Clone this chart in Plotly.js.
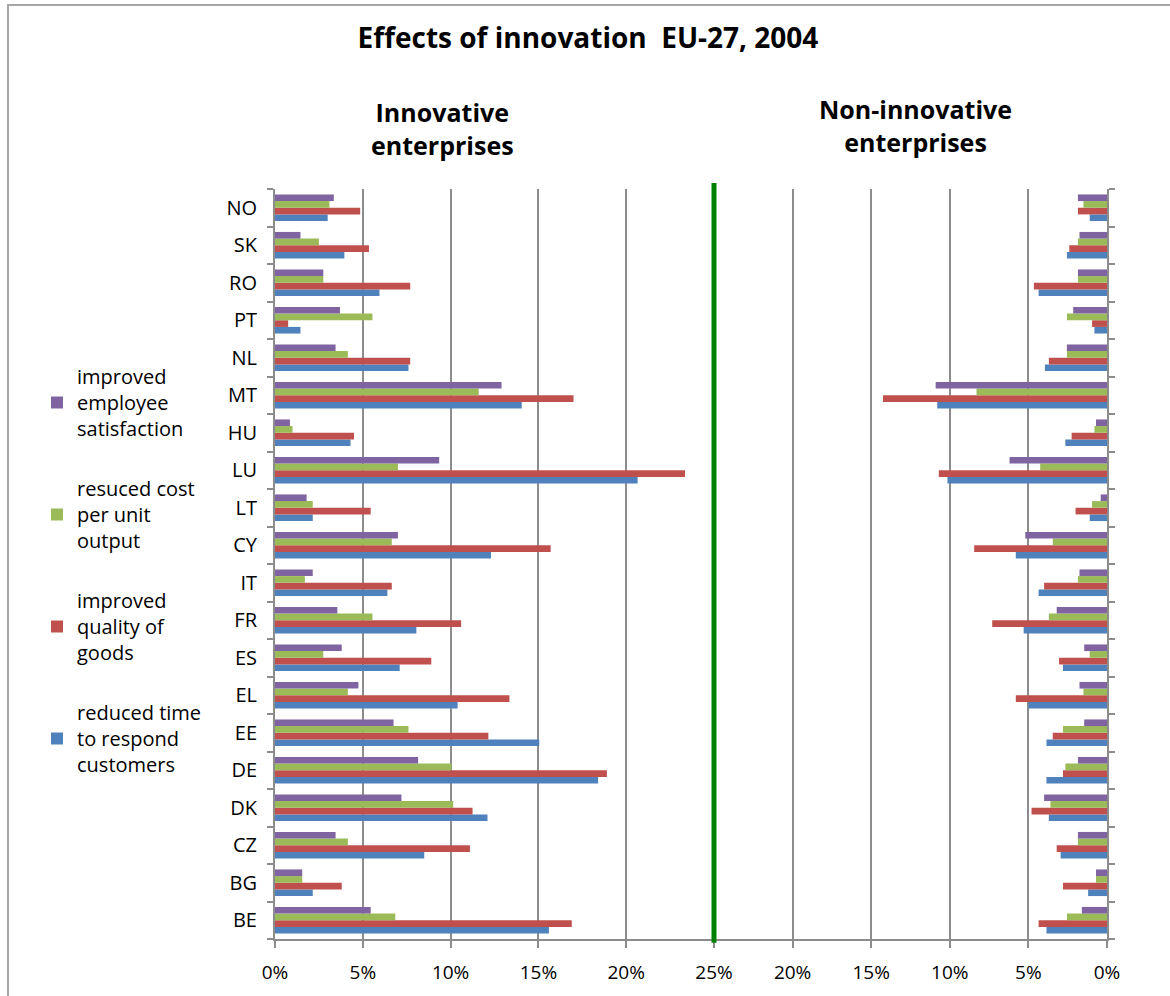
<!DOCTYPE html>
<html>
<head>
<meta charset="utf-8">
<script src="https://cdn.plot.ly/plotly-3.0.1.min.js"></script>
<style>
  html, body { margin: 0; padding: 0; background: #ffffff; }
  #chart { width: 1170px; height: 996px; }
</style>
</head>
<body>
<div id="chart"></div>
<script>
// Countries, listed bottom to top as they appear on the category axis
const countries = ["BE", "BG", "CZ", "DK", "DE", "EE", "EL", "ES", "FR", "IT",
                   "CY", "LT", "LU", "HU", "MT", "NL", "PT", "RO", "SK", "NO"];

const seriesNames = [
  "reduced time<br>to respond<br>customers",
  "improved<br>quality of<br>goods",
  "resuced cost<br>per unit<br>output",
  "improved<br>employee<br>satisfaction"
];
const seriesColors = ["#4F81BD", "#C0504D", "#9BBB59", "#8064A2"];
// legend lists the series top-down in the reverse of the drawing order
const legendRanks = [4, 3, 2, 1];

// Innovative enterprises (% of enterprises)
const innovTime     = [15.6, 2.15, 8.5, 12.1, 18.4, 15.05, 10.4, 7.1, 8.05, 6.4,
                       12.3, 2.15, 20.65, 4.3, 14.05, 7.6, 1.45, 5.95, 3.95, 3.0];
const innovQuality  = [16.9, 3.8, 11.1, 11.25, 18.9, 12.15, 13.35, 8.9, 10.6, 6.65,
                       15.7, 5.45, 23.35, 4.5, 17.0, 7.7, 0.75, 7.7, 5.35, 4.85];
const innovCost     = [6.85, 1.55, 4.15, 10.15, 10.05, 7.6, 4.15, 2.75, 5.55, 1.7,
                       6.65, 2.15, 7.0, 1.0, 11.6, 4.15, 5.55, 2.75, 2.5, 3.1];
const innovEmployee = [5.45, 1.55, 3.45, 7.2, 8.15, 6.75, 4.75, 3.8, 3.55, 2.15,
                       7.0, 1.8, 9.35, 0.85, 12.9, 3.45, 3.7, 2.75, 1.45, 3.35];

// Non-innovative enterprises (% of enterprises)
const nonTime       = [3.85, 1.2, 2.95, 3.7, 3.85, 3.85, 5.0, 2.8, 5.3, 4.35,
                       5.8, 1.1, 10.15, 2.65, 10.8, 3.95, 0.8, 4.35, 2.55, 1.1];
const nonQuality    = [4.35, 2.8, 3.2, 4.8, 2.8, 3.45, 5.8, 3.05, 7.3, 4.0,
                       8.45, 2.0, 10.7, 2.25, 14.25, 3.7, 0.95, 4.65, 2.4, 1.85];
const nonCost       = [2.55, 0.7, 1.85, 3.6, 2.65, 2.8, 1.5, 1.1, 3.7, 1.85,
                       3.45, 0.95, 4.25, 0.8, 8.3, 2.55, 2.55, 1.85, 1.85, 1.5];
const nonEmployee   = [1.6, 0.7, 1.85, 4.0, 1.85, 1.45, 1.75, 1.45, 3.2, 1.75,
                       5.2, 0.4, 6.2, 0.7, 10.9, 2.55, 2.15, 1.85, 1.75, 1.85];

const leftTicks  = [0, 5, 10, 15, 20, 25];
const rightTicks = [0, 5, 10, 15, 20];

const innovSeries = [innovTime, innovQuality, innovCost, innovEmployee];
const nonSeries   = [nonTime, nonQuality, nonCost, nonEmployee];

const traces = [];
innovSeries.forEach((vals, i) => {
  traces.push({
    type: "bar", orientation: "h",
    x: vals, y: countries,
    name: seriesNames[i],
    legendgroup: "g" + i,
    legendrank: legendRanks[i],
    marker: { color: seriesColors[i], line: { width: 0 } },
    xaxis: "x", yaxis: "y",
    hovertemplate: "%{y}: %{x}%<extra></extra>"
  });
});
nonSeries.forEach((vals, i) => {
  traces.push({
    type: "bar", orientation: "h",
    x: vals, y: countries,
    name: seriesNames[i],
    legendgroup: "g" + i,
    legendrank: legendRanks[i],
    showlegend: false,
    marker: { color: seriesColors[i], line: { width: 0 } },
    xaxis: "x2", yaxis: "y2",
    hovertemplate: "%{y}: %{x}%<extra></extra>"
  });
});

const gridGrey = "#8c8c8c";
const font = "'Open Sans', 'Liberation Sans', sans-serif";
const split = 439 / 832;

function heading(text, xPix, yPix) {
  return {
    text: "<b>" + text + "</b>",
    xref: "paper", yref: "paper",
    x: (xPix - 275) / 832, y: 1 + (189 - yPix) / 750,
    xanchor: "center", yanchor: "middle", showarrow: false,
    font: { family: font, size: 25, color: "#000000" }
  };
}

const layout = {
  width: 1170, height: 996,
  paper_bgcolor: "#ffffff", plot_bgcolor: "#ffffff",
  margin: { l: 275, r: 63, t: 189, b: 57 },
  barmode: "group", bargap: 0.29, bargroupgap: 0,
  font: { family: font, color: "#000000" },
  title: {
    text: "<b>Effects of innovation  EU-27, 2004</b>",
    font: { family: font, size: 28, color: "#000000" },
    x: 588 / 1170, xref: "container", xanchor: "center",
    y: 1 - 38 / 996, yref: "container", yanchor: "middle"
  },
  xaxis: {
    domain: [0, split], range: [0, 25], fixedrange: true,
    tickvals: leftTicks, ticktext: leftTicks.map(v => v + "%"),
    showgrid: true, gridcolor: gridGrey, gridwidth: 2,
    zeroline: false, showline: true, linecolor: gridGrey, linewidth: 2,
    ticks: "outside", ticklen: 7, tickwidth: 2, tickcolor: gridGrey,
    ticklabelstandoff: 8,
    tickfont: { size: 19, color: "#000000" }
  },
  xaxis2: {
    domain: [split, 1], range: [25, 0], anchor: "y2", fixedrange: true,
    tickvals: rightTicks, ticktext: rightTicks.map(v => v + "%"),
    showgrid: true, gridcolor: gridGrey, gridwidth: 2,
    zeroline: false, showline: true, linecolor: gridGrey, linewidth: 2,
    ticks: "outside", ticklen: 7, tickwidth: 2, tickcolor: gridGrey,
    ticklabelstandoff: 8,
    tickfont: { size: 19, color: "#000000" }
  },
  yaxis: {
    type: "category", categoryorder: "array", categoryarray: countries,
    anchor: "x", fixedrange: true,
    showline: true, linecolor: gridGrey, linewidth: 2,
    ticks: "outside", tickson: "boundaries", ticklen: 6, tickwidth: 2, tickcolor: gridGrey,
    ticklabelstandoff: 12,
    showgrid: false, zeroline: false,
    tickfont: { size: 20, color: "#000000" }
  },
  yaxis2: {
    type: "category", categoryorder: "array", categoryarray: countries,
    matches: "y", anchor: "x2", side: "right", fixedrange: true,
    showline: true, linecolor: gridGrey, linewidth: 2,
    ticks: "outside", tickson: "boundaries", ticklen: 6, tickwidth: 2, tickcolor: gridGrey,
    showticklabels: false, showgrid: false, zeroline: false
  },
  legend: {
    x: (37 - 275) / 832, xanchor: "left",
    y: 1 + (189 - 357) / 750, yanchor: "top",
    traceorder: "grouped",
    tracegroupgap: 31,
    font: { family: font, size: 20, color: "#000000" },
    bgcolor: "rgba(0,0,0,0)", borderwidth: 0
  },
  annotations: [
    heading("Innovative<br>enterprises", 442, 129),
    heading("Non-innovative<br>enterprises", 915, 125)
  ],
  shapes: [
    // outer chart frame
    {
      type: "rect", xref: "paper", yref: "paper", layer: "below",
      x0: (8 - 275) / 832, x1: 1.2,
      y0: -0.2, y1: 1 + (189 - 5) / 750,
      line: { color: "#a6a6a6", width: 2 }, fillcolor: "rgba(0,0,0,0)"
    },
    // divider between the two halves, at the 25% mark
    {
      type: "line", xref: "paper", yref: "paper",
      x0: split, x1: split, y0: -0.005, y1: 1.008,
      line: { color: "#008000", width: 5 }
    }
  ]
};

Plotly.newPlot("chart", traces, layout, { displayModeBar: false, staticPlot: true });
</script>
</body>
</html>
